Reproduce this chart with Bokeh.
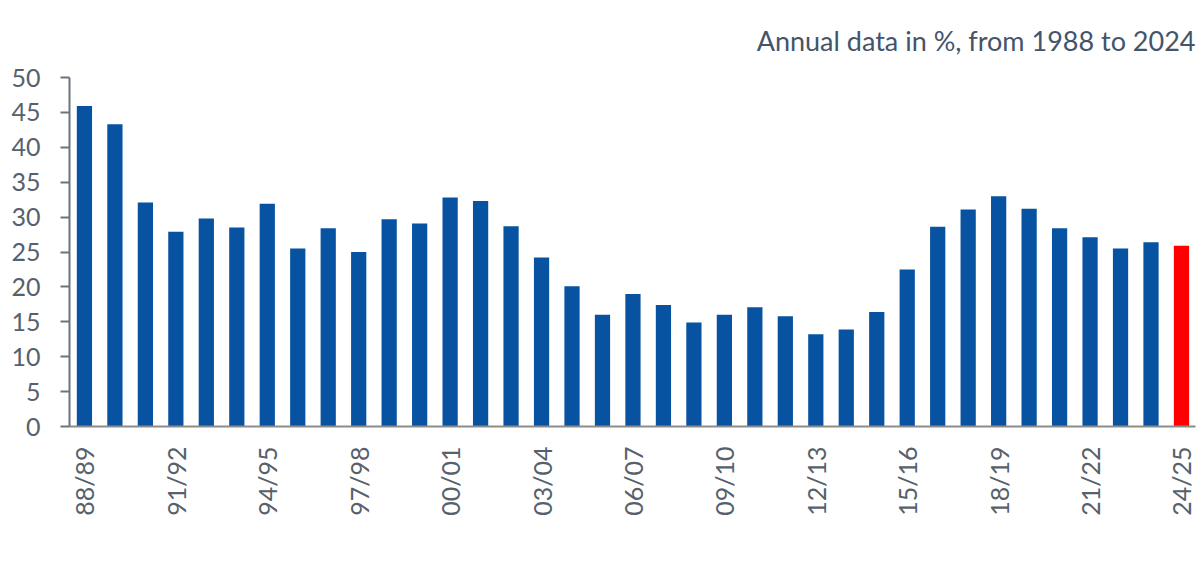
from bokeh.plotting import figure
from bokeh.models import ColumnDataSource, Range1d, FixedTicker
from bokeh.embed import file_html
from bokeh.resources import INLINE

seasons = ["88/89", "89/90", "90/91", "91/92", "92/93", "93/94", "94/95", "95/96",
           "96/97", "97/98", "98/99", "99/00", "00/01", "01/02", "02/03", "03/04",
           "04/05", "05/06", "06/07", "07/08", "08/09", "09/10", "10/11", "11/12",
           "12/13", "13/14", "14/15", "15/16", "16/17", "17/18", "18/19", "19/20",
           "20/21", "21/22", "22/23", "23/24", "24/25"]
values = [45.9, 43.3, 32.1, 27.9, 29.8, 28.5, 31.9, 25.5, 28.4, 25.0, 29.7, 29.1,
          32.8, 32.3, 28.7, 24.2, 20.1, 16.0, 19.0, 17.4, 14.9, 16.0, 17.1, 15.8,
          13.2, 13.9, 16.4, 22.5, 28.6, 31.1, 33.0, 31.2, 28.4, 27.1, 25.5, 26.4, 25.9]
y_ticks = [0, 5, 10, 15, 20, 25, 30, 35, 40, 45, 50]
title_text = "Annual data in %, from 1988 to 2024"

BLUE = "#0853a1"
RED = "#ff0000"
FONT = "Lato"
TICK_COLOR = "#56616c"

idx = list(range(len(seasons)))
colors = [BLUE] * (len(seasons) - 1) + [RED]
src = ColumnDataSource(dict(x=idx, top=values, color=colors, season=seasons))

p = figure(width=1196, height=563, output_backend="svg", toolbar_location=None,
           x_range=Range1d(-0.49, 36.46), y_range=Range1d(0, 50),
           min_border_left=69, min_border_right=1, min_border_top=75, min_border_bottom=137)

p.vbar(x="x", top="top", width=0.5, color="color", line_color=None, source=src)

p.title.text = title_text
p.title.align = "right"
p.title.text_font = FONT
p.title.text_font_size = "27px"
p.title.text_font_style = "normal"
p.title.text_color = "#44546a"
p.title.standoff = 42

p.xgrid.visible = False
p.ygrid.visible = False
p.outline_line_color = None
p.background_fill_color = "white"
p.border_fill_color = "white"

ya = p.yaxis[0]
ya.ticker = FixedTicker(ticks=y_ticks)
ya.axis_line_color = "#6b7580"
ya.axis_line_width = 2
ya.major_tick_line_color = "#6b7580"
ya.major_tick_line_width = 2
ya.major_tick_out = 9
ya.major_tick_in = 0
ya.minor_tick_line_color = None
ya.major_label_text_font = FONT
ya.major_label_text_font_size = "25px"
ya.major_label_text_color = TICK_COLOR
ya.major_label_standoff = 20

xa = p.xaxis[0]
xa.ticker = FixedTicker(ticks=idx[::3])
xa.major_label_overrides = {i: seasons[i] for i in idx}
xa.major_label_orientation = 1.5708
xa.axis_line_color = "#8c8c8c"
xa.axis_line_width = 2
xa.major_tick_line_color = None
xa.minor_tick_line_color = None
xa.major_tick_out = 0
xa.major_tick_in = 0
xa.major_label_text_font = FONT
xa.major_label_text_font_size = "25px"
xa.major_label_text_color = TICK_COLOR
xa.major_label_standoff = 20

open("out.html", "w").write(file_html(p, INLINE))
